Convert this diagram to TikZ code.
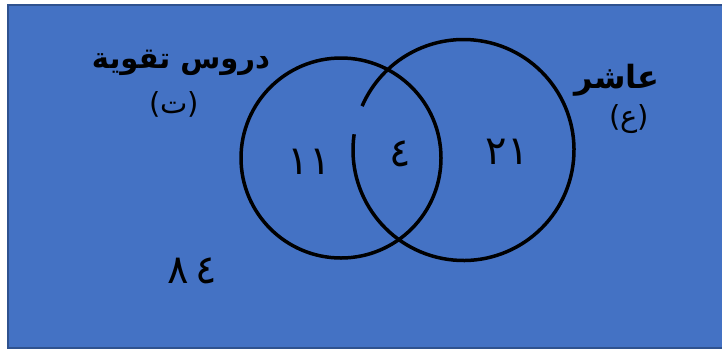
\documentclass[tikz,border=0pt]{standalone}
\usepackage{xcolor}
\usepackage{fontspec}
\newfontfamily\arabicfont[Script=Arabic]{DejaVu Sans}
\TeXXeTstate=1
\usetikzlibrary{positioning}
\definecolor{boxblue}{HTML}{4472C4}
\definecolor{boxedge}{HTML}{2F528F}

\begin{document}
\begin{tikzpicture}[x=1pt,y=-1pt]
                \useasboundingbox (0,0) rectangle (722,354);
                \draw[boxedge, line width=2pt, fill=boxblue] (8,4.5) rectangle (723,347.5);
                \draw[line width=3.5pt] (341,158) circle (100pt);
                \draw[line width=3.5pt] (463.5,150) ++(171.8:110.5pt) arc[start angle=171.8, end angle=516.6, radius=110.5pt];
                \node[font=\arabicfont\bfseries\fontsize{29}{33}\selectfont] (dorous) at (181,63) {\beginR دروس تقوية\endR};
                \node[font=\arabicfont\fontsize{29}{33}\selectfont] (dorousT) at (174,104) {(ت)};
                \node[font=\arabicfont\bfseries\fontsize{32}{36}\selectfont] (asher) at (617,80) {\beginR عاشر\endR};
                \node[font=\arabicfont\fontsize{29}{33}\selectfont] (asherE) at (629,119) {(ع)};
                \node[font=\arabicfont\fontsize{40}{44}\selectfont] (onlyT) at (309,162) {١١};
                \node[font=\arabicfont\fontsize{40}{44}\selectfont] (both) at (400,154) {٤};
                \node[font=\arabicfont\fontsize{40}{44}\selectfont] (onlyE) at (507,152) {٢١};
                \node[font=\arabicfont\fontsize{40}{44}\selectfont] (neither) at (192,271) {٨\,٤};
            \end{tikzpicture}
\end{document}
